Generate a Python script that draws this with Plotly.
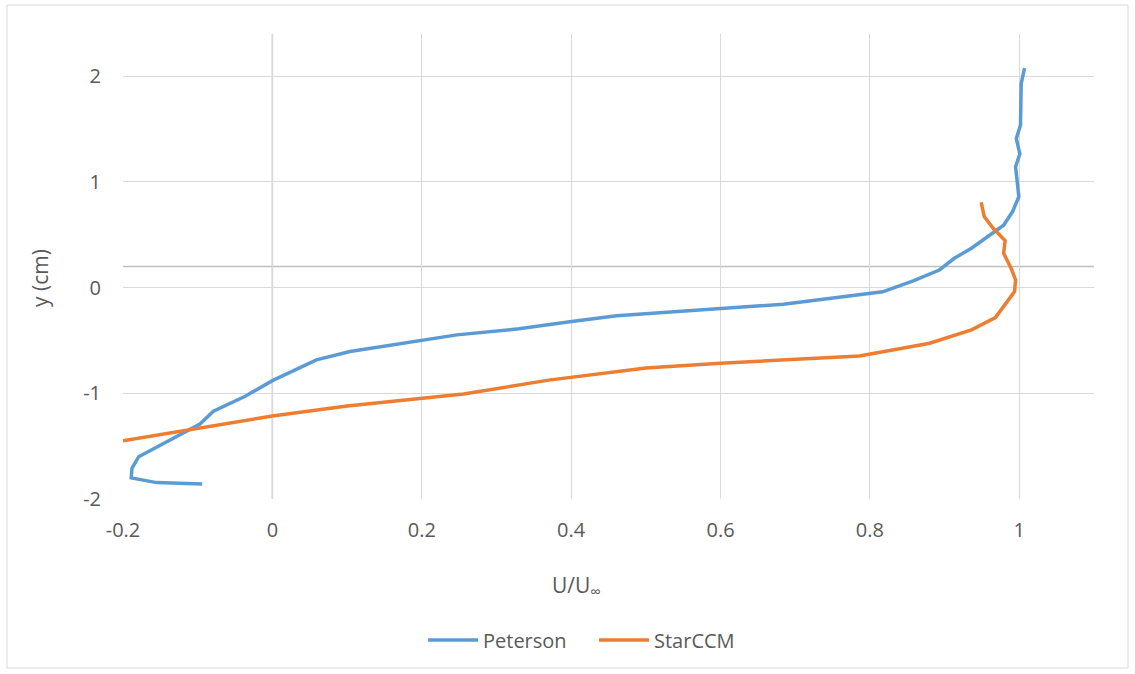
import plotly.graph_objects as go

# Peterson (experimental) profile
peterson_u = [1.007, 1.0025, 1.0016, 0.996, 1.0007, 0.995, 0.9994, 0.991, 0.979, 0.964,
              0.936, 0.913, 0.893, 0.858, 0.817, 0.684, 0.600, 0.530, 0.461, 0.398,
              0.330, 0.247, 0.200, 0.104, 0.059, 0.024, 0.000, -0.037, -0.079, -0.097,
              -0.128, -0.179, -0.188, -0.189, -0.155, -0.094]
peterson_y = [2.076, 1.93, 1.54, 1.41, 1.265, 1.145, 0.86, 0.72, 0.59, 0.515,
              0.373, 0.278, 0.167, 0.063, -0.04, -0.157, -0.195, -0.228, -0.265, -0.322,
              -0.39, -0.447, -0.50, -0.605, -0.684, -0.795, -0.88, -1.03, -1.17, -1.29,
              -1.41, -1.60, -1.71, -1.80, -1.845, -1.857]

# StarCCM simulation profile
star_u = [0.949, 0.953, 0.965, 0.981, 0.979, 0.989, 0.995, 0.9936, 0.968, 0.936,
          0.880, 0.786, 0.600, 0.500, 0.370, 0.256, 0.100, 0.000, -0.200]
star_y = [0.808, 0.672, 0.562, 0.445, 0.325, 0.183, 0.073, -0.038, -0.284, -0.40,
          -0.526, -0.646, -0.715, -0.76, -0.875, -1.006, -1.12, -1.215, -1.45]

x_ticks = [-0.2, 0, 0.2, 0.4, 0.6, 0.8, 1]
x_tick_text = ["-0.2", "0", "0.2", "0.4", "0.6", "0.8", "1"]
y_ticks = [-2, -1, 0, 1, 2]
y_tick_text = ["-2", "-1", "0", "1", "2"]

FONT = "Open Sans"
TXT = "#595959"

W, H = 1135, 674
L, R, T, B = 123, 41, 34, 175
PW, PH = W - L - R, H - T - B

fig = go.Figure()
fig.add_trace(go.Scatter(x=peterson_u, y=peterson_y, mode="lines", name="Peterson",
                         line=dict(color="#5b9bd5", width=3.5)))
fig.add_trace(go.Scatter(x=star_u, y=star_y, mode="lines", name="StarCCM",
                         line=dict(color="#ed7d31", width=3.5)))

fig.update_layout(
    width=W, height=H,
    margin=dict(l=L, r=R, t=T, b=B, autoexpand=False),
    paper_bgcolor="white", plot_bgcolor="white",
    font=dict(family=FONT, size=20, color=TXT),
    showlegend=True,
    legend=dict(orientation="h", x=(594 - L) / PW, xanchor="center",
                y=(H - B - 640) / PH, yanchor="middle",
                font=dict(family=FONT, size=20, color=TXT), itemwidth=50,
                entrywidth=106, entrywidthmode="pixels"),
    xaxis=dict(range=[-0.2, 1.1], tickvals=x_ticks, ticktext=x_tick_text,
               showgrid=True, gridcolor="#d9d9d9", gridwidth=1, zeroline=False,
               showline=False, ticks="", ticklabelstandoff=17,
               tickfont=dict(family=FONT, size=20, color=TXT)),
    yaxis=dict(range=[-2, 2.4], tickvals=y_ticks, ticktext=y_tick_text,
               showgrid=True, gridcolor="#d9d9d9", gridwidth=1, zeroline=False,
               showline=False, ticks="", ticklabelstandoff=21,
               tickfont=dict(family=FONT, size=20, color=TXT)),
    annotations=[
        dict(text="U/U<sub>∞</sub>", x=(576 - L) / PW, xref="paper",
             y=(H - B - 586) / PH, yref="paper",
             showarrow=False, font=dict(family=FONT, size=21, color=TXT),
             xanchor="center", yanchor="middle"),
        dict(text="y (cm)", x=(40 - L) / PW, xref="paper",
             y=(H - B - 278) / PH, yref="paper",
             showarrow=False, textangle=-90, font=dict(family=FONT, size=21, color=TXT),
             xanchor="center", yanchor="middle"),
    ],
    shapes=[
        # vertical axis at x = 0
        dict(type="line", xref="x", yref="paper", x0=0, x1=0, y0=0, y1=1,
             line=dict(color="#bfbfbf", width=1.5), layer="below"),
        # horizontal axis crossing at y = 0.2
        dict(type="line", xref="paper", yref="y", x0=0, x1=1, y0=0.2, y1=0.2,
             line=dict(color="#bfbfbf", width=1.5), layer="below"),
        # outer chart border
        dict(type="rect", xref="paper", yref="paper",
             x0=(7 - L) / PW, x1=(1128 - L) / PW,
             y0=(H - B - 668) / PH, y1=(H - B - 5) / PH,
             line=dict(color="#d9d9d9", width=1)),
    ],
)

fig.write_html("out.html", config={"displayModeBar": False},
               post_script="document.body.style.margin='0px';document.body.style.overflow='hidden';")
